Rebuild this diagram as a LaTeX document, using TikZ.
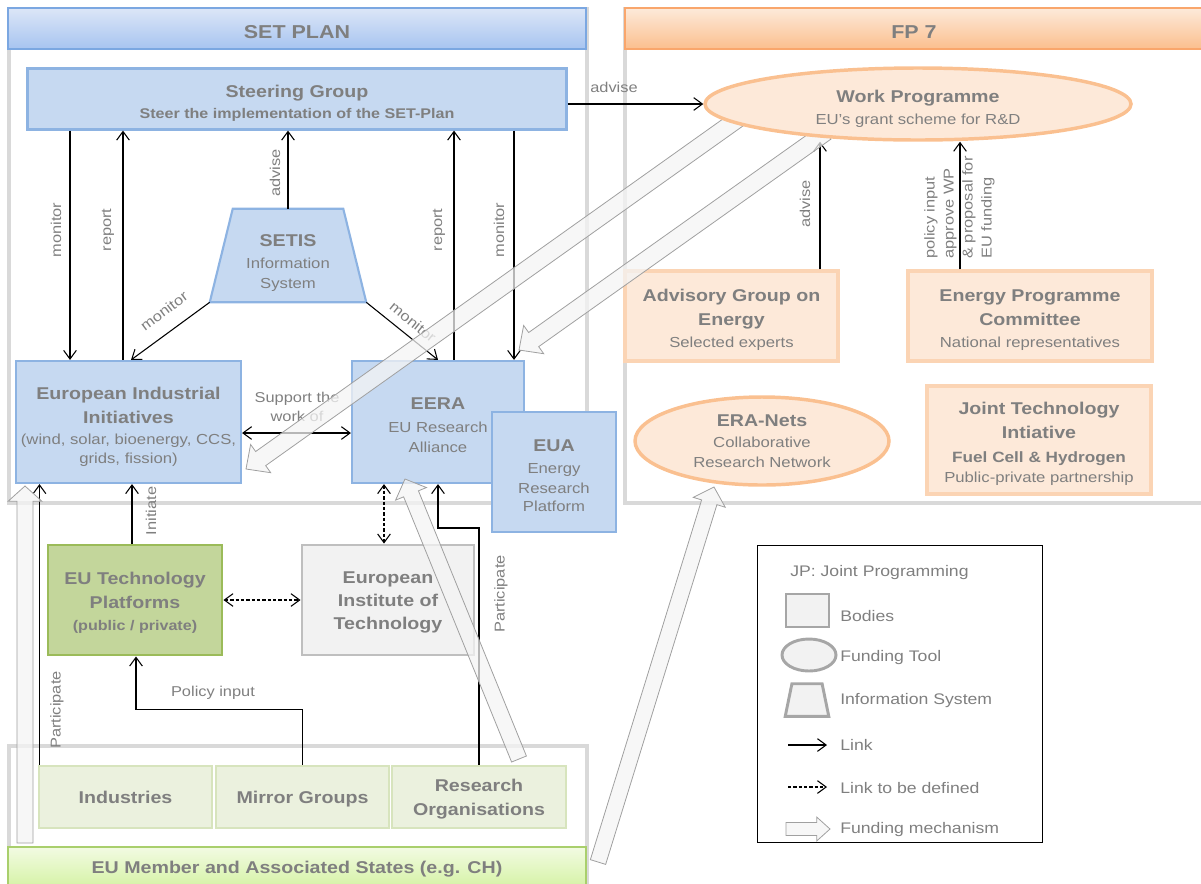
\documentclass[tikz,border=0pt]{standalone}
\usepackage{fontspec}
\setmainfont{Liberation Sans}[FakeStretch=1.15]
\usetikzlibrary{arrows.meta,calc,shapes.geometric}
\definecolor{txt}{HTML}{7F7F7F}
\definecolor{bluefill}{HTML}{C6D9F1}
\definecolor{blueline}{HTML}{8DB3E2}
\definecolor{orfill}{HTML}{FDE9D9}
\definecolor{orline}{HTML}{FBD4B4}
\definecolor{orelline}{HTML}{FAC090}
\definecolor{gfill}{HTML}{C3D69B}
\definecolor{gline}{HTML}{9BBB59}
\definecolor{lgfill}{HTML}{EBF1DE}
\definecolor{lgline}{HTML}{D7E4BD}
\definecolor{grfill}{HTML}{F2F2F2}
\definecolor{grline}{HTML}{BFBFBF}
\definecolor{legline}{HTML}{A6A6A6}
\definecolor{framec}{HTML}{D9D9D9}
\definecolor{hbtop}{HTML}{DCE6F7}
\definecolor{hbbot}{HTML}{A7C4F0}
\definecolor{hbline}{HTML}{7BA7E1}
\definecolor{hotop}{HTML}{FDEADA}
\definecolor{hobot}{HTML}{FBBF8E}
\definecolor{holine}{HTML}{F9A66C}
\definecolor{mtop}{HTML}{F2FBE2}
\definecolor{mbot}{HTML}{D7F3A9}
\definecolor{mline}{HTML}{A9CF6C}
\definecolor{fundfill}{HTML}{F4F4F4}
\definecolor{fundline}{HTML}{A0A0A0}
\newcommand\ftitle{\fontsize{14pt}{17pt}\selectfont\bfseries}
\newcommand\fhead{\fontsize{12.8pt}{18pt}\selectfont\bfseries}
\newcommand\fsub{\fontsize{10.5pt}{15pt}\selectfont\bfseries}
\newcommand\fsubb{\fontsize{11.2pt}{15pt}\selectfont\bfseries}
\newcommand\fbody{\fontsize{10.9pt}{15pt}\selectfont\mdseries}
\newcommand\flbl{\fontsize{10.7pt}{14.25pt}\selectfont}
\newcommand\fleg{\fontsize{11.5pt}{14pt}\selectfont}
\newcommand\tp[1]{\rule{0pt}{#1pt}}
\newcommand\fundarrow[5]{%
  \coordinate (fh) at ($(#2)!#5!(#1)$);
  \draw[fund] ($(#1)!#3!90:(#2)$) -- ($(fh)!#3!90:(#2)$) -- ($(fh)!#4!90:(#2)$) -- (#2)
    -- ($(fh)!#4!-90:(#2)$) -- ($(fh)!#3!-90:(#2)$) -- ($(#1)!#3!-90:(#2)$) -- cycle;}
\pgfdeclarelayer{front}
\pgfsetlayers{main,front}
\begin{document}
\begin{tikzpicture}[x=0.75pt,y=-0.75pt,
  >={Straight Barb[length=6.5pt,width=9.5pt]},
  sz/.style 2 args={minimum width=#1*0.75pt, minimum height=#2*0.75pt},
  base/.style={rectangle, align=center, text=txt, inner sep=0pt, font=\fhead},
  framebox/.style={base, draw=framec, line width=2.4pt},
  bluebox/.style={base, fill=bluefill, draw=blueline, line width=1.6pt},
  orbox/.style={base, fill=orfill, draw=orline, line width=2.6pt},
  orell/.style={base, ellipse, fill=orfill, draw=orelline, line width=2.6pt},
  greenbox/.style={base, fill=gfill, draw=gline, line width=2.2pt},
  greybox/.style={base, fill=grfill, draw=grline, line width=2.2pt},
  lgbox/.style={base, fill=lgfill, draw=lgline, line width=2.2pt},
  lbl/.style={text=txt, inner sep=0pt, font=\flbl},
  legtxt/.style={text=txt, inner sep=0pt, font=\fleg, anchor=west},
  legshape/.style={fill=grfill, draw=legline, line width=2.2pt},
  link/.style={draw=black, line width=0.8pt, ->},
  dlink/.style={link, dash pattern=on 2.5pt off 1.5pt},
  fund/.style={draw=fundline, line width=0.6pt, fill=fundfill, fill opacity=0.75},
]
\useasboundingbox (0,0) rectangle (1201,883);
% frames
\node[framebox, sz={578}{494}] (setfr) at (298,256) {};
\node[framebox, sz={584}{494}] (fpfr) at (917,256) {};
\node[framebox, sz={578}{144}] (botfr) at (298,818) {};
% headers
\node[base, font=\ftitle, sz={578}{41}, top color=hbtop, bottom color=hbbot, draw=hbline, line width=1.2pt] (sethdr) at (297,28.5) {\tp{14.5}SET PLAN};
\node[base, font=\ftitle, sz={578}{41}, top color=hotop, bottom color=hobot, draw=holine, line width=1.2pt] (fphdr) at (914,28.5) {\tp{14.5}FP 7};
\node[base, sz={578}{38}, top color=mtop, bottom color=mbot, draw=mline, line width=1pt] (mem) at (297,866) {\tp{13.8}EU Member and Associated States (e.g. CH)};
% SET plan nodes
\node[bluebox, sz={539}{61}] (sg) at (297,99) {\tp{15.3}Steering Group\\[-2.25pt]\fsub Steer the implementation of the SET-Plan};
\node[sz={156}{93}, inner sep=0pt] (setis) at (288,255.5) {};
\draw[fill=bluefill, draw=blueline, line width=1.6pt] (setis.south west) -- (setis.south east) -- ([xshift=-17.25pt]setis.north east) -- ([xshift=17.25pt]setis.north west) -- cycle;
\node[base] (setist) at (288,263) {SETIS\\[-1.5pt]\fbody Information\\[-3pt]\fbody System};
\node[bluebox, sz={225}{122}] (eii) at (128.5,422) {\tp{16.8}European Industrial\\Initiatives\\[-2.25pt]\fbody (wind, solar, bioenergy, CCS,\\[-3.75pt]\fbody grids, fission)};
\node[bluebox, sz={172}{122}] (eera) at (438,422) {\tp{13.8}EERA\\[-0.75pt]\fbody EU Research\\[-3pt]\fbody Alliance};
\node[bluebox, sz={124}{120}] (eua) at (554,472) {\tp{13.8}EUA\\[-1.5pt]\fbody Energy\\[-3pt]\fbody Research\\[-4.5pt]\fbody Platform};
\node[greenbox, sz={174}{110}] (etp) at (135,600) {\tp{13.8}EU Technology\\Platforms\\[-1.5pt]\fsub (public / private)};
\node[greybox, sz={172}{110}] (eit) at (388,600) {\tp{12.3}European\\[-0.75pt]Institute of\\[-0.75pt]Technology};
\node[lgbox, sz={173}{62}] (ind) at (125.5,797) {Industries};
\node[lgbox, sz={173}{62}] (mir) at (302.5,797) {\tp{12.3}Mirror Groups};
\node[lgbox, sz={174}{62}] (ro) at (479,797) {\tp{12.3}Research\\Organisations};
% FP7 nodes
\begin{pgfonlayer}{front}
\node[orell, sz={426}{72}] (wp) at (918,104) {\tp{16.8}Work Programme\\[-1.5pt]\fbody EU’s grant scheme for R\&D};
\end{pgfonlayer}
\node[orbox, sz={213}{90}] (age) at (731.5,316) {\tp{15.3}Advisory Group on\\Energy\\[-1.5pt]\fbody Selected experts};
\node[orbox, sz={244}{90}] (epc) at (1030,316) {\tp{15.3}Energy Programme\\Committee\\[-1.5pt]\fbody National representatives};
\node[orell, sz={254}{88}] (era) at (762,441) {ERA-Nets\\[-2.25pt]\fbody Collaborative\\[-3pt]\fbody Research Network};
\node[orbox, sz={224}{108}] (jti) at (1039,440) {\tp{15.3}Joint Technology\\Intiative\\\fsubb Fuel Cell \& Hydrogen\\[-3pt]\fbody Public-private partnership};
% links
\draw[link] (sg.east |- wp.west) -- (wp.west);
\draw[link] (sg.south -| 70,0) -- (eii.north -| 70,0);
\draw[link] (eii.north -| 123,0) -- (sg.south -| 123,0);
\draw[link] (setis.north) -- (setis.north |- sg.south);
\draw[link] (eera.north -| 454,0) -- (sg.south -| 454,0);
\draw[link] (sg.south -| 514,0) -- (eera.north -| 514,0);
\draw[link] (setis.south west) -- (eii.north -| 131,0);
\draw[link] (setis.south east) -- (eera.north -| 438,0);
\draw[link,<->] (eii.east |- 0,433) -- (eera.west |- 0,433);
\draw[link] (etp.north -| 132,0) -- (eii.south -| 132,0);
\draw[dlink,<->] (etp.east |- 0,600) -- (eit.west |- 0,600);
\draw[dlink,<->] (eera.south -| 384,0) -- (eit.north -| 384,0);
\draw[link] (mir.north) -- ++(0,-55) -| (etp.south -| 136,0);
\draw[link] (ind.north -| 39.5,0) -- (eii.south -| 39.5,0);
\draw[link] (ro.north) -- (ro.north |- 0,528) -| (eera.south -| 438,0);
\draw[link] (age.north -| 820,0) -- (wp.south -| 820,0);
\draw[link] (epc.north -| 960,0) -- (wp.south -| 960,0);
% labels
\node[lbl] (ladv1) at (614,87) {advise};
\node[lbl, rotate=90] (lmon1) at (56,230) {monitor};
\node[lbl, rotate=90] (lrep1) at (108,230) {report};
\node[lbl, rotate=90] (ladv2) at (275,173) {advise};
\node[lbl, rotate=90] (lrep2) at (439,230) {report};
\node[lbl, rotate=90] (lmon2) at (499,230) {monitor};
\node[lbl, rotate=37] (lmon3) at (164,311) {monitor};
\node[lbl, rotate=-39] (lmon4) at (413,322) {monitor};
\node[lbl, align=center] (lsup) at (297,407) {Support the\\work of};
\node[lbl, rotate=90] (linit) at (151,511) {Initiate};
\node[lbl] (lpol) at (213,693) {Policy input};
\node[lbl, rotate=90] (lpart1) at (57,710) {Participate};
\node[lbl, rotate=90] (lpart2) at (501,594) {Participate};
\node[lbl, rotate=90] (ladv3) at (805,204) {advise};
\node[lbl, rotate=90, align=left] (lpolfp) at (959.5,207.5) {policy input\\approve WP\\\& proposal for\\EU funding};
% legend
\node[draw=black, line width=0.75pt, sz={285}{297}, inner sep=0pt] (leg) at (899.5,693.5) {};
\node[legtxt] (legjp) at (790,573) {JP: Joint Programming};
\node[legshape, sz={43}{33}, inner sep=0pt] (legb) at (807.5,610.5) {};
\node[legtxt] (legbt) at (840,616) {Bodies};
\node[legshape, ellipse, sz={54}{32}, inner sep=0pt] (lege) at (809,655) {};
\node[legtxt] (leget) at (840,658) {Funding Tool};
\node[sz={43}{32}, inner sep=0pt] (legt) at (807,700) {};
\draw[legshape] (legt.south west) -- (legt.south east) -- ([xshift=-5pt]legt.north east) -- ([xshift=5pt]legt.north west) -- cycle;
\node[legtxt] (legtt) at (840,701) {Information System};
\coordinate (lk1) at (788,745); \coordinate (lk2) at (827,745);
\draw[link] (lk1) -- (lk2);
\node[legtxt] (legl) at (840,745) {Link};
\coordinate (ld1) at (788,787); \coordinate (ld2) at (827,787);
\draw[dlink] (ld1) -- (ld2);
\node[legtxt] (legd) at (840,788) {Link to be defined};
\coordinate (lf1) at (786,829); \coordinate (lf2) at (830,829);
\fundarrow{lf1}{lf2}{4.9pt}{9pt}{10pt}
\node[legtxt] (legf) at (840,830) {Funding mechanism};
% funding mechanisms
\coordinate (f1a) at (742,116); \coordinate (f1b) at (246,469);
\coordinate (f2a) at (826,132); \coordinate (f2b) at (519,350);
\coordinate (f3a) at (25,843); \coordinate (f3b) at (25,486);
\coordinate (f4a) at (519,759); \coordinate (f4b) at (405,479);
\coordinate (f5a) at (598,862); \coordinate (f5b) at (714,487);
\fundarrow{f1a}{f1b}{6.5pt}{13pt}{13.5pt}
\fundarrow{f2a}{f2b}{6.5pt}{13pt}{13.5pt}
\fundarrow{f3a}{f3b}{6pt}{12.75pt}{11.5pt}
\fundarrow{f4a}{f4b}{6pt}{12.5pt}{12pt}
\fundarrow{f5a}{f5b}{6pt}{12.5pt}{12pt}
\end{tikzpicture}
\end{document}
